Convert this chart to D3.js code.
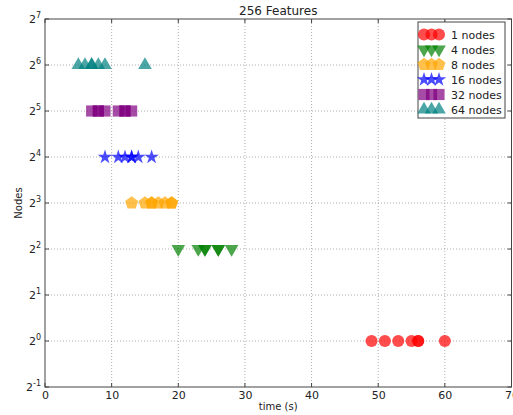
<!DOCTYPE html>
<html>
<head>
<meta charset="utf-8">
<script src="https://cdn.jsdelivr.net/npm/d3@7"></script>
<style>
body{margin:0;background:#fff;}
svg text{font-family:"DejaVu Sans",sans-serif;fill:#222;}
</style>
</head>
<body>
<svg id="chart" width="513" height="415"></svg>
<script>
// data ------------------------------------------------
var title='256 Features';
var nodes=[1,4,8,16,32,64];
var labels=['1 nodes','4 nodes','8 nodes','16 nodes','32 nodes','64 nodes'];
var times1=[49,51,53,55,56,56,60];
var times4=[20,23,24,24,26,26,28];
var times8=[13,15,16,16,17,18,19,19];
var times16=[9,11,12,13,13,14,16];
var times32=[7,8,8,9,11,12,12,13];
var times64=[5,6,7,7,8,9,15];
var xTicks=[0,10,20,30,40,50,60,70];
var yExp=[-1,0,1,2,3,4,5,6,7];
var colors=['#ff0000','#008000','#ffa500','#0000ff','#800080','#008080'];

var allTimes=[times1,times4,times8,times16,times32,times64];

//pentagon symbol, d3 has none
var symbolPentagon={
  draw:function(ctx,size){
    var r=Math.sqrt(size/(2.5*Math.sin(2*Math.PI/5)));
    for(var i=0;i<5;i++){
      var a=-Math.PI/2+i*2*Math.PI/5;
      if(i==0){ctx.moveTo(r*Math.cos(a),r*Math.sin(a));}
      else{ctx.lineTo(r*Math.cos(a),r*Math.sin(a));}
    }
    ctx.closePath();
  }
};
var shapes=[
  {type:d3.symbolCircle,size:115,rot:0},
  {type:d3.symbolTriangle,size:80,rot:180},
  {type:symbolPentagon,size:110,rot:0},
  {type:d3.symbolStar,size:65,rot:0},
  {type:d3.symbolSquare,size:125,rot:0},
  {type:d3.symbolTriangle,size:80,rot:0}
];

var svg=d3.select('#chart');
var margin={left:45,right:1.5,top:19,bottom:28};
var W=513,H=415;

var x=d3.scaleLinear().domain([0,70]).range([margin.left,W-margin.right]);
var y=d3.scaleLog().base(2).domain([0.5,128]).range([H-margin.bottom,margin.top]);

//grid
var grid=svg.append('g').attr('class','grid')
  .attr('stroke','#999').attr('stroke-width',0.8).attr('stroke-dasharray','1,2');
xTicks.slice(1,-1).forEach(function(t){
  grid.append('line').attr('x1',x(t)).attr('x2',x(t)).attr('y1',y(0.5)).attr('y2',y(128));
});
yExp.slice(1,-1).forEach(function(e){
  grid.append('line').attr('x1',x(0)).attr('x2',x(70)).attr('y1',y(Math.pow(2,e))).attr('y2',y(Math.pow(2,e)));
});

//points
allTimes.forEach(function(arr,i){
  var sym=d3.symbol().type(shapes[i].type).size(shapes[i].size);
  svg.append('g').selectAll('path').data(arr).join('path')
    .attr('d',sym)
    .attr('transform',function(d){return 'translate('+x(d)+','+y(nodes[i])+') rotate('+shapes[i].rot+')';})
    .attr('fill',colors[i]).attr('fill-opacity',0.7);
});

//axes frame
svg.append('rect').attr('x',x(0)).attr('y',y(128)).attr('width',x(70)-x(0)).attr('height',y(0.5)-y(128))
  .attr('fill','none').attr('stroke','#444').attr('stroke-width',1);

var xAxis=d3.axisBottom(x).tickValues(xTicks).tickSize(0).tickPadding(4);
var gx=svg.append('g').attr('transform','translate(0,'+y(0.5)+')').call(xAxis);
gx.select('.domain').remove();
gx.selectAll('text').attr('font-size',11).attr('fill','#222');

//inward ticks on all sides
var tk=svg.append('g').attr('stroke','#444').attr('stroke-width',1);
xTicks.forEach(function(t){
  tk.append('line').attr('x1',x(t)).attr('x2',x(t)).attr('y1',y(0.5)).attr('y2',y(0.5)-4);
  tk.append('line').attr('x1',x(t)).attr('x2',x(t)).attr('y1',y(128)).attr('y2',y(128)+4);
});
yExp.forEach(function(e){
  var yy=y(Math.pow(2,e));
  tk.append('line').attr('x1',x(0)).attr('x2',x(0)+4).attr('y1',yy).attr('y2',yy);
  tk.append('line').attr('x1',x(70)).attr('x2',x(70)-4).attr('y1',yy).attr('y2',yy);
});

//y tick labels 2^n
var yl=svg.append('g');
yExp.forEach(function(e){
  var t=yl.append('text').attr('x',x(0)-4).attr('y',y(Math.pow(2,e))+4)
    .attr('text-anchor','end').attr('font-size',11);
  t.append('tspan').text('2');
  t.append('tspan').attr('dy',-5).attr('font-size',8).text(e);
});

svg.append('text').attr('x',(x(0)+x(70))/2).attr('y',15).attr('text-anchor','middle')
  .attr('font-size',12).text(title);
svg.append('text').attr('x',(x(0)+x(70))/2).attr('y',410).attr('text-anchor','middle')
  .attr('font-size',10).text('time (s)');
svg.append('text').attr('transform','translate(22,'+((y(0.5)+y(128))/2)+') rotate(-90)')
  .attr('text-anchor','middle').attr('font-size',10).text('Nodes');

//legend
var lg=svg.append('g').attr('transform','translate(418,22)');
lg.append('rect').attr('width',87).attr('height',96).attr('fill','#fff').attr('stroke','#444').attr('stroke-width',1);
labels.forEach(function(lab,i){
  var ly=12.5+i*15;
  var sym=d3.symbol().type(shapes[i].type).size(shapes[i].size);
  [6,13.5,21].forEach(function(mx){
    lg.append('path').attr('d',sym)
      .attr('transform','translate('+mx+','+ly+') rotate('+shapes[i].rot+')')
      .attr('fill',colors[i]).attr('fill-opacity',0.7);
  });
  lg.append('text').attr('x',33).attr('y',ly+4).attr('font-size',11).text(lab);
});
</script>
</body>
</html>
